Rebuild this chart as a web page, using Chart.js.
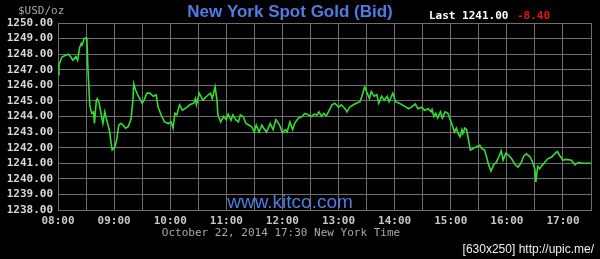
<!DOCTYPE html>
<html lang="en">
<head>
    <meta charset="UTF-8">
    <title>New York Spot Gold (Bid)</title>
    <script src="https://cdn.jsdelivr.net/npm/chart.js"></script>
    <style>
        html, body { margin: 0; padding: 0; background: #000; }
        canvas { display: block; background: #000; }
    </style>
</head>
<body>
<canvas id="goldChart" width="600" height="259"></canvas>

<script>
    // minutes after 08:00 New York time
    const bidMinutes = [
        0, 1, 4, 7, 11, 14, 16, 19, 21, 23, 25, 26, 28, 30, 31, 32, 33, 34, 36, 38,
        39, 41, 42, 44, 46, 48, 50, 52, 55, 57, 58, 61, 63, 65, 67, 69, 72, 75, 78, 80,
        81, 83, 86, 90, 92, 95, 98, 102, 105, 107, 111, 114, 118, 121, 123, 125, 127, 130, 133, 138,
        141, 145, 147, 148, 151, 155, 159, 163, 165, 168, 170, 171, 174, 177, 180, 182, 185, 187, 190, 193,
        195, 198, 201, 204, 207, 210, 212, 215, 218, 220, 223, 227, 230, 233, 237, 240, 243, 245, 248, 251,
        253, 257, 261, 264, 268, 271, 274, 277, 279, 282, 284, 287, 290, 293, 296, 300, 303, 307, 309, 312,
        316, 319, 323, 325, 328, 330, 333, 335, 338, 341, 343, 346, 349, 352, 354, 358, 361, 365, 371, 375,
        378, 382, 385, 389, 392, 396, 399, 400, 402, 404, 406, 409, 411, 414, 417, 421, 424, 426, 428, 430,
        432, 433, 435, 437, 439, 441, 444, 447, 451, 453, 456, 458, 460, 463, 466, 469, 472, 474, 476, 479,
        482, 485, 489, 492, 495, 498, 501, 505, 508, 510, 511, 513, 515, 517, 521, 524, 528, 531, 534, 537,
        540, 544, 549, 553, 556, 562, 570
    ];

    // bid price, USD per ounce
    const bidPrices = [
        1246.70, 1247.30, 1247.80, 1247.90, 1248.00, 1247.80, 1247.60, 1247.85, 1247.60, 1248.40,
        1248.70, 1248.60, 1249.00, 1249.05, 1248.80, 1247.10, 1245.90, 1244.70, 1244.20, 1244.30,
        1243.55, 1245.05, 1245.15, 1244.85, 1244.20, 1243.55, 1244.30, 1243.80, 1243.10, 1242.20,
        1241.85, 1242.05, 1242.60, 1243.45, 1243.55, 1243.50, 1243.25, 1243.35, 1243.80, 1244.95,
        1246.10, 1245.70, 1245.30, 1244.85, 1245.05, 1245.50, 1245.50, 1245.30, 1245.40, 1244.60,
        1244.00, 1243.65, 1243.55, 1243.65, 1243.25, 1244.20, 1244.10, 1244.75, 1244.40, 1244.60,
        1244.75, 1244.85, 1245.15, 1244.75, 1245.50, 1245.05, 1245.30, 1245.50, 1245.15, 1245.90,
        1245.05, 1244.10, 1243.65, 1244.00, 1243.80, 1244.15, 1243.75, 1244.10, 1243.80, 1243.65,
        1244.10, 1244.00, 1243.55, 1243.45, 1243.35, 1243.00, 1243.45, 1243.00, 1243.45, 1243.25,
        1243.00, 1243.55, 1243.15, 1243.80, 1243.45, 1242.95, 1243.15, 1243.00, 1243.65, 1243.15,
        1243.55, 1243.90, 1244.00, 1244.20, 1244.10, 1244.00, 1244.15, 1244.10, 1244.30, 1244.00,
        1244.20, 1244.05, 1244.40, 1244.75, 1244.85, 1244.60, 1244.75, 1244.50, 1244.30, 1244.60,
        1244.75, 1244.85, 1244.95, 1245.30, 1245.90, 1245.60, 1245.15, 1245.60, 1245.30, 1245.40,
        1244.85, 1245.30, 1245.05, 1245.30, 1244.95, 1245.50, 1244.95, 1244.85, 1244.65, 1244.50,
        1244.60, 1244.80, 1244.50, 1244.60, 1244.40, 1244.50, 1244.30, 1244.45, 1244.00, 1244.20,
        1243.90, 1244.30, 1243.90, 1244.30, 1244.20, 1243.55, 1243.00, 1243.25, 1242.90, 1242.70,
        1243.15, 1242.90, 1243.25, 1243.15, 1242.50, 1241.85, 1241.95, 1242.05, 1242.15, 1241.95,
        1241.85, 1241.50, 1241.00, 1240.50, 1240.90, 1241.10, 1241.50, 1241.80, 1241.20, 1241.65,
        1241.50, 1241.30, 1240.90, 1240.75, 1241.00, 1241.45, 1241.60, 1241.40, 1241.00, 1240.60,
        1239.80, 1240.80, 1240.65, 1240.80, 1241.10, 1241.30, 1241.40, 1241.60, 1241.75, 1241.45,
        1241.20, 1241.25, 1241.20, 1240.90, 1241.05, 1241.00, 1241.00
    ];

    const xTickLabels = ['08:00', '09:00', '10:00', '11:00', '12:00', '13:00', '14:00', '15:00', '16:00', '17:00'];
    const lastPrice = '1241.00';
    const change = '-8.40';
    const stampText = 'October 22, 2014 17:30 New York Time';

    const gridColor = '#6e6e6e';
    const mono = '"DejaVu Sans Mono", "Liberation Mono", monospace';

    // extra texts around the plot
    const kitcoText = {
        id: 'kitcoText',
        afterDraw(chart) {
            const ctx = chart.ctx;
            const area = chart.chartArea;
            ctx.save();
            ctx.textBaseline = 'middle';

            ctx.textAlign = 'center';
            ctx.fillStyle = '#4f7be6';
            ctx.font = 'bold 17px "Liberation Sans", Arial, sans-serif';
            ctx.fillText('New York Spot Gold (Bid)', 290, 12, 212);

            ctx.textAlign = 'left';
            ctx.font = '11px ' + mono;
            ctx.fillStyle = '#a8a8a8';
            ctx.fillText('$USD/oz', 18, 11);

            ctx.font = 'bold 11px ' + mono;
            ctx.fillStyle = '#ffffff';
            ctx.fillText('Last ' + lastPrice, 429, 16);
            ctx.fillStyle = '#ee1111';
            ctx.fillText(change, 517, 16);

            ctx.textAlign = 'center';
            ctx.fillStyle = '#4f7be6';
            ctx.font = '19px "Liberation Sans", Arial, sans-serif';
            ctx.fillText('www.kitco.com', 290, area.bottom - 7);

            ctx.font = '11px ' + mono;
            ctx.fillStyle = '#a8a8a8';
            ctx.fillText(stampText, 281, 233);

            ctx.textAlign = 'right';
            ctx.fillStyle = '#f0f0f0';
            ctx.font = '12px "Liberation Sans Narrow", "Liberation Sans", sans-serif';
            ctx.fillText('[630x250] http://upic.me/', 594, 250, 142);
            ctx.restore();
        }
    };

    const ctx = document.getElementById('goldChart').getContext('2d');
    new Chart(ctx, {
        type: 'line',
        data: {
            datasets: [{
                label: 'Bid',
                data: bidMinutes.map((m, i) => ({ x: m, y: bidPrices[i] })),
                borderColor: '#33dd33',
                borderWidth: 1.6,
                pointRadius: 0,
                fill: false,
                tension: 0
            }]
        },
        options: {
            responsive: false,
            animation: false,
            layout: { padding: { top: 23, right: 9, left: 0, bottom: 0 } },
            plugins: {
                legend: { display: false },
                title: { display: false },
                tooltip: { enabled: false }
            },
            scales: {
                x: {
                    type: 'linear',
                    min: 0,
                    max: 570,
                    afterFit: (scale) => { scale.height = 49; },
                    grid: { color: gridColor, lineWidth: 1, drawTicks: false },
                    border: { color: gridColor },
                    ticks: {
                        stepSize: 30,
                        maxTicksLimit: 40,
                        autoSkip: false,
                        maxRotation: 0,
                        padding: 5,
                        color: '#c8c8c8',
                        font: { family: mono, size: 11, weight: 'bold' },
                        callback: (v) => (v % 60 === 0 ? xTickLabels[v / 60] : '')
                    }
                },
                y: {
                    min: 1238,
                    max: 1250,
                    afterFit: (scale) => { scale.width = 58; },
                    grid: { color: gridColor, lineWidth: 1, drawTicks: false },
                    border: { color: gridColor },
                    ticks: {
                        stepSize: 1,
                        maxTicksLimit: 20,
                        autoSkip: false,
                        padding: 5,
                        color: '#d8d8d8',
                        font: { family: mono, size: 11, weight: 'bold' },
                        callback: (v) => v.toFixed(2)
                    }
                }
            }
        },
        plugins: [kitcoText]
    });
</script>
</body>
</html>
